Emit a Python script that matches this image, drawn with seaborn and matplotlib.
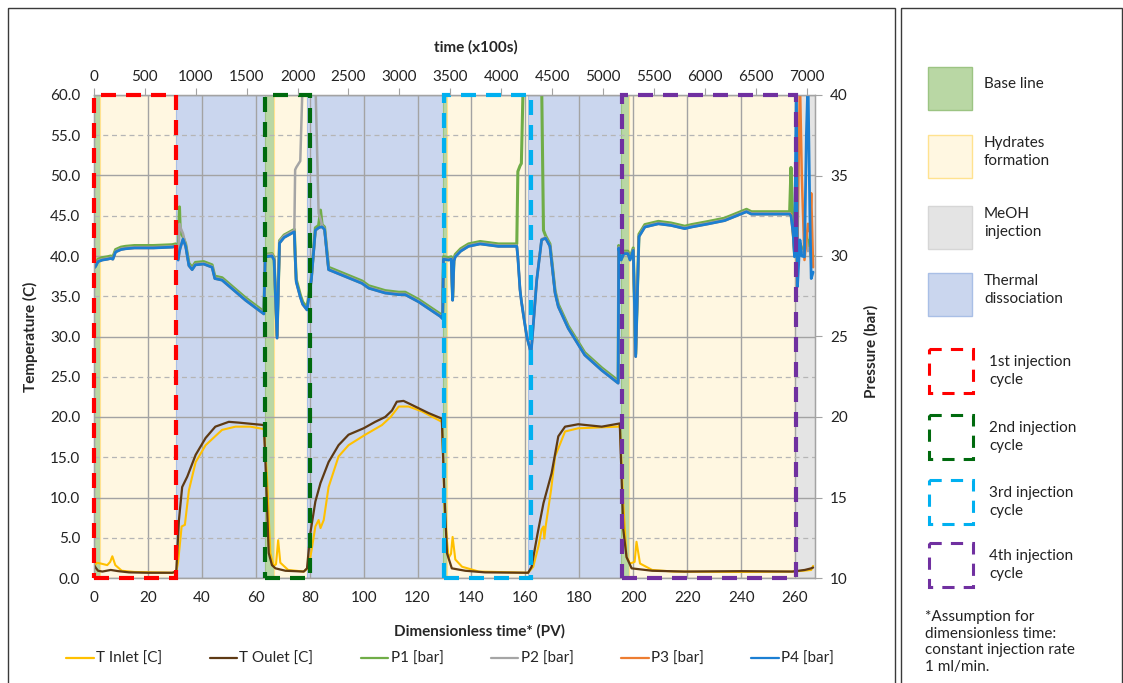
import matplotlib
matplotlib.use('Agg')
import matplotlib.pyplot as plt
import seaborn as sns
from matplotlib.patches import Rectangle
from matplotlib.lines import Line2D

sns.set_style('white')
plt.rcParams['font.family'] = ['Lato', 'DejaVu Sans']
plt.rcParams['axes.unicode_minus'] = False

# ---- temperatures (C) vs dimensionless time (PV) ----
pv_tin = [0.0, 1.0, 2.5, 4.9, 6.0, 6.8, 7.9, 10.3, 15.0, 29.0,
          30.5, 31.2, 32.5, 33.7, 35.2, 37.7, 41.4, 47.5, 52.5, 58.0,
          63.0, 64.2, 65.4, 66.6, 67.5, 68.3, 69.1, 72.0, 77.8, 79.6,
          80.9, 82.1, 83.3, 84.0, 85.2, 87.0, 90.7, 94.4, 100.6, 106.8,
          110.0, 113.0, 116.7, 121.6, 129.0, 130.2, 131.5, 132.4, 133.0, 134.0,
          136.5, 142.7, 161.0, 162.9, 164.8, 166.0, 166.7, 167.0, 167.5, 169.5,
          171.0, 174.7, 179.6, 194.5, 195.0, 196.3, 197.5, 198.8, 200.5, 201.2,
          202.5, 207.0, 215.0, 240.0, 259.0, 263.0, 266.0, 266.7]
t_in = [1.4, 1.9, 1.8, 1.6, 2.0, 2.7, 1.6, 0.9, 0.75, 0.65,
        0.7, 2.0, 6.4, 6.6, 10.9, 14.4, 16.5, 18.4, 18.8, 18.8,
        18.5, 12.2, 3.1, 1.5, 1.7, 4.7, 1.9, 1.0, 0.8, 1.3,
        3.9, 6.4, 7.2, 6.2, 7.2, 11.3, 15.1, 16.5, 17.8, 19.0,
        20.0, 21.3, 21.3, 20.7, 19.4, 7.2, 2.5, 3.0, 5.1, 2.3,
        1.4, 0.8, 0.65, 1.4, 3.9, 6.0, 6.4, 4.9, 6.4, 10.9,
        15.1, 18.2, 18.6, 18.8, 19.0, 9.3, 2.6, 1.8, 2.0, 4.5,
        1.8, 1.0, 0.8, 0.75, 0.8, 0.9, 1.0, 1.5]

pv_tout = [0.0, 0.8, 1.5, 3.1, 6.2, 9.0, 13.0, 20.0, 29.0, 30.5,
           31.5, 32.7, 34.6, 37.7, 41.4, 45.0, 50.0, 53.7, 59.9, 63.0,
           63.6, 64.8, 66.0, 67.3, 71.0, 77.8, 79.0, 80.2, 82.1, 84.0,
           87.0, 90.7, 94.4, 100.0, 104.3, 108.0, 110.5, 112.3, 114.8, 117.9,
           124.0, 129.0, 130.0, 130.9, 132.7, 137.7, 145.0, 161.0, 162.3, 164.5,
           166.7, 169.7, 172.2, 174.7, 179.6, 188.3, 195.0, 196.3, 197.5, 199.4,
           207.0, 219.0, 240.0, 259.0, 263.6, 266.0, 266.7]
t_out = [1.6, 1.2, 0.9, 0.8, 1.0, 0.85, 0.7, 0.65, 0.65, 0.8,
         7.2, 11.3, 12.6, 15.3, 17.4, 18.8, 19.4, 19.3, 19.1, 19.0,
         14.2, 3.1, 1.6, 1.2, 0.9, 0.8, 1.2, 5.5, 9.5, 11.8,
         14.4, 16.5, 17.8, 18.6, 19.4, 20.0, 20.8, 21.9, 22.0, 21.5,
         20.5, 19.8, 10.1, 3.1, 1.2, 0.9, 0.7, 0.65, 1.4, 5.5,
         9.3, 13.0, 17.6, 18.8, 19.1, 18.8, 19.2, 6.0, 2.6, 1.2,
         0.9, 0.8, 0.85, 0.8, 1.0, 1.2, 1.3]

# ---- pressures (bar), shared PV grid ----
pv_p = [0.0, 0.6, 1.5, 3.1, 5.0, 6.2, 7.0, 8.0, 10.0, 11.7, 15.0, 22.0, 29.0, 30.3,
        31.2, 31.7, 32.0, 33.0, 34.0, 35.2, 36.4, 37.6, 40.7, 43.8, 44.8, 47.5, 56.2, 63.0,
        63.5, 66.0, 66.8, 67.9, 68.8, 70.5, 74.3, 74.6, 75.0, 76.5, 77.4, 79.0, 80.6, 82.1, 83.3, 84.0, 84.6, 85.5, 87.0,
        99.4, 101.9, 108.0, 113.0, 115.4, 120.4, 128.4, 129.3,
        129.6, 131.5, 132.5, 133.0, 133.5, 134.0, 136.0, 138.9, 143.2, 150.0, 156.8, 157.2, 158.0, 158.5, 159.2, 160.5,
        162.1, 164.2, 166.0, 166.7, 167.5, 169.1, 171.0, 172.2, 175.9, 182.0, 188.3, 194.4,
        194.6, 195.5, 196.5, 198.0, 198.8, 200.0, 200.9, 202.1, 204.3, 209.3, 214.0, 219.1, 221.6, 228.0, 233.9, 242.0,
        243.8, 250.0, 258.0,
        258.5, 259.3, 259.8, 260.5, 260.9, 261.8, 262.5, 263.5, 264.2, 264.8, 265.5, 266.0, 266.7]
p1 = [29.4, 29.5, 29.8, 29.9, 29.95, 30.0, 29.95, 30.4, 30.55, 30.6, 30.65, 30.65, 30.7, 30.75,
      29.9, 33.05, 31.5, 31.2, 30.75, 29.55, 29.3, 29.6, 29.65, 29.45, 28.75, 28.65, 27.4, 26.55,
      30.1, 30.15, 29.9, 25.05, 30.95, 31.3, 31.65, 30.15, 28.55, 27.6, 27.15, 26.8, 28.65, 31.75, 31.9, 32.85, 31.95, 31.8, 29.3,
      28.45, 28.15, 27.85, 27.75, 27.75, 27.3, 26.4, 26.25,
      29.95, 29.9, 29.95, 27.4, 29.85, 30.1, 30.45, 30.75, 30.9, 30.75, 30.75, 35.25, 35.6, 35.75, 41.0, 41.0,
      41.0, 41.0, 41.0, 31.6, 31.25, 30.75, 27.85, 27.0, 25.65, 24.0, 23.05, 22.25,
      30.65, 29.9, 30.3, 30.3, 29.9, 30.5, 23.9, 31.35, 31.95, 32.15, 32.05, 31.85, 31.95, 32.15, 32.35, 32.9,
      32.75, 32.75, 32.75,
      35.5, 31.5, 30.2, 33.0, 29.5, 30.8, 30.5, 30.4, 31.5, 30.5, 31.0, 30.0, 30.0]
p2 = [29.3, 29.4, 29.7, 29.8, 29.85, 29.9, 29.85, 30.3, 30.45, 30.5, 30.55, 30.55, 30.6, 30.65,
      29.8, 32.0, 31.8, 31.4, 30.65, 29.45, 29.2, 29.5, 29.55, 29.35, 28.65, 28.55, 27.3, 26.45,
      30.05, 30.1, 29.85, 24.95, 30.9, 31.25, 31.6, 35.35, 35.5, 35.9, 41.0, 41.0, 41.0, 41.0, 32.65, 32.3, 31.9, 31.7, 29.2,
      28.35, 28.05, 27.75, 27.65, 27.65, 27.2, 26.3, 26.15,
      29.85, 29.8, 29.85, 27.3, 29.75, 30.0, 30.35, 30.65, 30.8, 30.65, 30.65, 29.95, 27.95, 27.25, 26.45, 25.05,
      24.0, 28.55, 31.05, 31.1, 31.15, 30.65, 27.75, 26.9, 25.55, 23.9, 22.95, 22.15,
      30.55, 29.8, 30.2, 30.2, 29.8, 30.4, 23.8, 31.25, 31.85, 32.05, 31.95, 31.75, 31.85, 32.05, 32.25, 32.8,
      32.65, 32.65, 32.65,
      32.6, 31.4, 30.0, 32.0, 29.5, 30.5, 30.3, 30.2, 31.0, 30.3, 30.5, 29.8, 29.8]
p3 = [29.25, 29.35, 29.65, 29.75, 29.8, 29.85, 29.8, 30.25, 30.4, 30.45, 30.5, 30.5, 30.55, 30.6,
      29.75, 30.3, 30.5, 31.05, 30.6, 29.4, 29.15, 29.45, 29.5, 29.3, 28.6, 28.5, 27.25, 26.4,
      29.95, 30.0, 29.75, 24.9, 30.8, 31.15, 31.5, 30.0, 28.4, 27.45, 27.0, 26.65, 28.5, 31.6, 31.75, 31.8, 31.8, 31.65, 29.15,
      28.3, 28.0, 27.7, 27.6, 27.6, 27.15, 26.25, 26.1,
      29.8, 29.75, 29.8, 27.25, 29.7, 29.95, 30.3, 30.6, 30.75, 30.6, 30.6, 29.9, 27.9, 27.2, 26.4, 25.0,
      23.95, 28.5, 31.0, 31.05, 31.1, 30.6, 27.7, 26.85, 25.5, 23.85, 22.9, 22.1,
      30.5, 29.75, 30.15, 30.15, 29.75, 30.35, 23.75, 31.2, 31.8, 32.0, 31.9, 31.7, 31.8, 32.0, 32.2, 32.75,
      32.6, 32.6, 32.6,
      32.6, 31.3, 30.2, 32.0, 30.5, 41.0, 35.0, 29.75, 31.0, 32.0, 31.5, 33.9, 29.3]
p4 = [29.25, 29.35, 29.65, 29.75, 29.8, 29.85, 29.8, 30.25, 30.4, 30.45, 30.5, 30.5, 30.55, 30.6,
      29.75, 30.3, 30.5, 31.05, 30.6, 29.4, 29.15, 29.45, 29.5, 29.3, 28.6, 28.5, 27.25, 26.4,
      29.95, 30.0, 29.75, 24.9, 30.8, 31.15, 31.5, 30.0, 28.4, 27.45, 27.0, 26.65, 28.5, 31.6, 31.75, 31.8, 31.8, 31.65, 29.15,
      28.3, 28.0, 27.7, 27.6, 27.6, 27.15, 26.25, 26.1,
      29.8, 29.75, 29.8, 27.25, 29.7, 29.95, 30.3, 30.6, 30.75, 30.6, 30.6, 29.9, 27.9, 27.2, 26.4, 25.0,
      23.95, 28.5, 31.0, 31.05, 31.1, 30.6, 27.7, 26.85, 25.5, 23.85, 22.9, 22.1,
      30.5, 29.75, 30.15, 30.15, 29.75, 30.35, 23.75, 31.2, 31.8, 32.0, 31.9, 31.7, 31.8, 32.0, 32.2, 32.75,
      32.6, 32.6, 32.6,
      32.5, 31.4, 29.95, 41.0, 28.1, 31.0, 30.0, 29.95, 37.5, 41.0, 32.5, 28.6, 29.0]

# ---- experiment phases (background shading) ----
phase_start = [0.0, 2.4, 30.4, 63.3, 66.8, 79.0, 129.3, 131.0, 161.0, 195.5, 198.6, 259.9]
phase_end = [2.4, 30.4, 63.3, 66.8, 79.0, 129.3, 131.0, 161.0, 195.5, 198.6, 259.9, 267.4]
phase_kind = ['base', 'hydrate', 'thermal', 'base', 'hydrate', 'thermal',
              'base', 'hydrate', 'thermal', 'base', 'hydrate', 'meoh']

# ---- injection cycles (dashed boxes) ----
cycle_start = [0.0, 63.5, 129.8, 195.9]
cycle_end = [30.3, 80.1, 162.2, 260.3]
cycle_names = ['1st injection\ncycle', '2nd injection\ncycle', '3rd injection\ncycle', '4th injection\ncycle']
cycle_colors = ['#ff0000', '#006a0e', '#00b0f0', '#7030a0']

phase_face = {'base': '#b9d7a4', 'hydrate': '#fff7e1', 'meoh': '#e4e4e4', 'thermal': '#cad6ee'}
phase_edge = {'base': '#9cc483', 'hydrate': '#ffe28f', 'meoh': '#d6d6d6', 'thermal': '#a9bfe6'}
phase_names = [('base', 'Base line'), ('hydrate', 'Hydrates\nformation'),
               ('meoh', 'MeOH\ninjection'), ('thermal', 'Thermal\ndissociation')]

series_colors = {'T Inlet [C]': '#ffc000', 'T Oulet [C]': '#5e3a14', 'P1 [bar]': '#70ad47',
                 'P2 [bar]': '#a5a5a5', 'P3 [bar]': '#ed7d31', 'P4 [bar]': '#1b7fd3'}

W, H = 1123, 683
fig = plt.figure(figsize=(W / 100, H / 100), dpi=100)

# background canvas in pixel units for frames and the side panel
bg = fig.add_axes([0, 0, 1, 1])
bg.set_xlim(0, W)
bg.set_ylim(H, 0)
bg.axis('off')
bg.add_patch(Rectangle((8, 8), 887, 690, fill=False, ec='#3a3a3a', lw=1.0))
bg.add_patch(Rectangle((901, 8), 221, 690, fill=False, ec='#3a3a3a', lw=1.0))

ax = fig.add_axes([94 / W, 1 - 578 / H, (815 - 94) / W, (578 - 95) / H])
xmax = 267.4
ax.set_xlim(0, xmax)
ax.set_ylim(0, 60)

for s, e, k in zip(phase_start, phase_end, phase_kind):
    ax.axvspan(s, e, facecolor=phase_face[k], edgecolor=phase_edge[k], lw=0.8, zorder=0)

for v in range(20, 261, 20):
    ax.axvline(v, color='#a3a3a3', lw=1.0, zorder=1)
for v in range(0, 61, 5):
    if v % 10 == 0:
        ax.axhline(v, color='#a3a3a3', lw=1.0, zorder=1)
    else:
        ax.axhline(v, color='#b5b5b5', lw=0.9, ls=(0, (4, 3)), zorder=1)

sns.lineplot(x=pv_tin, y=t_in, ax=ax, color=series_colors['T Inlet [C]'], lw=1.5,
             sort=False, estimator=None, zorder=3)
sns.lineplot(x=pv_tout, y=t_out, ax=ax, color=series_colors['T Oulet [C]'], lw=1.6,
             sort=False, estimator=None, zorder=3)

ax2 = ax.twinx()
ax2.set_ylim(10, 40)
sns.lineplot(x=pv_p, y=p1, ax=ax2, color=series_colors['P1 [bar]'], lw=2.2, sort=False, estimator=None)
sns.lineplot(x=pv_p, y=p2, ax=ax2, color=series_colors['P2 [bar]'], lw=1.8, sort=False, estimator=None)
sns.lineplot(x=pv_p, y=p3, ax=ax2, color=series_colors['P3 [bar]'], lw=1.8, sort=False, estimator=None)
sns.lineplot(x=pv_p, y=p4, ax=ax2, color=series_colors['P4 [bar]'], lw=2.0, sort=False, estimator=None)
ax2.set_xlim(0, xmax)

for s, e, c in zip(cycle_start, cycle_end, cycle_colors):
    ax2.add_patch(Rectangle((s, 10), e - s, 30, fill=False, ec=c, lw=3.0,
                            ls=(0, (3.6, 2.4)), clip_on=False, zorder=6))

# axes styling
ax.set_yticks(range(0, 61, 5))
ax.set_yticklabels([f'{v:.1f}' for v in range(0, 61, 5)])
ax.set_xticks(range(0, 261, 20))
ax.tick_params(axis='both', length=0, labelsize=11, colors='#222222')
ax.tick_params(axis='y', pad=10)
ax.tick_params(axis='x', pad=9)
ax2.set_yticks(range(10, 41, 5))
ax2.tick_params(axis='y', length=5, labelsize=11, colors='#222222', pad=6)
ax2.tick_params(axis='y', color='#a3a3a3')
for a in (ax, ax2):
    for sp in a.spines.values():
        sp.set_color('#a3a3a3')
        sp.set_linewidth(0.9)
ax.set_xlabel('Dimensionless time* (PV)', fontsize=11, fontweight='bold')
ax.xaxis.set_label_coords(0.535, -0.095)
ax.set_ylabel('Temperature (C)', fontsize=11, fontweight='bold')
ax.yaxis.set_label_coords(-0.077, 0.5)
ax2.set_ylabel('Pressure (bar)', fontsize=11, fontweight='bold')
ax2.yaxis.set_label_coords(1.068, 0.47)

ax3 = ax.twiny()
ax3.set_xlim(0, 7083)
ax3.set_xticks(range(0, 7001, 500))
ax3.tick_params(axis='x', length=5, labelsize=11, colors='#222222', pad=3)
ax3.tick_params(axis='x', color='#a3a3a3')
for sp in ax3.spines.values():
    sp.set_visible(False)
ax3.set_xlabel('time (x100s)', fontsize=11, fontweight='bold')
ax3.xaxis.set_label_coords(0.53, 1.089)

# bottom legend
handles = [Line2D([], [], color=c, lw=1.6) for c in series_colors.values()]
fig.legend(handles, list(series_colors.keys()), loc='lower left', ncol=6, mode='expand',
           bbox_to_anchor=(60 / W, 1 - 672 / H, 780 / W, 24 / H), frameon=False,
           handlelength=1.8, handletextpad=0.15, fontsize=11, borderaxespad=0)

# side panel legend
patch_y = [67, 135, 206, 273]
for (k, name), y0 in zip(phase_names, patch_y):
    bg.add_patch(Rectangle((928, y0), 44, 43, fc=phase_face[k], ec=phase_edge[k], lw=1.0))
    bg.text(984, y0 + 17, name, fontsize=11, va='center', ha='left', linespacing=1.3, color='#222222')

box_y = [349, 415, 480, 543]
for name, c, y0 in zip(cycle_names, cycle_colors, box_y):
    bg.add_patch(Rectangle((929, y0), 44, 44, fill=False, ec=c, lw=2.2, ls=(0, (4, 3))))
    bg.text(989, y0 + 22, name, fontsize=11, va='center', ha='left', linespacing=1.3, color='#222222')

bg.text(925, 642, '*Assumption for\ndimensionless time:\nconstant injection rate\n1 ml/min.',
        fontsize=11, va='center', ha='left', linespacing=1.25, color='#222222')

fig.savefig('out.png', dpi=100)
